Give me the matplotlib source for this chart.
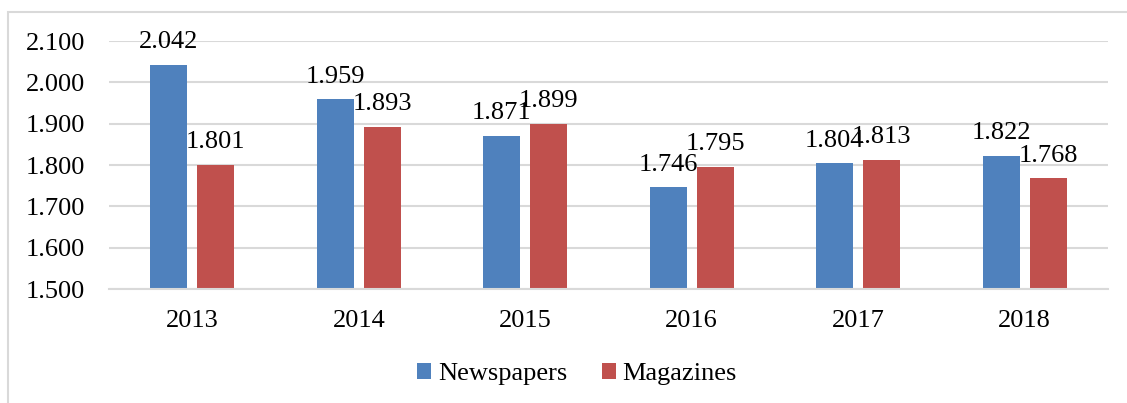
import matplotlib
matplotlib.use('Agg')
import matplotlib.pyplot as plt
import numpy as np
from matplotlib.patches import Rectangle

plt.rcParams['font.family'] = ['Liberation Serif', 'DejaVu Serif']

# data
years = ['2013', '2014', '2015', '2016', '2017', '2018']
newspapers = [2.042, 1.959, 1.871, 1.746, 1.804, 1.822]
magazines = [1.801, 1.893, 1.899, 1.795, 1.813, 1.768]
yticks = [1.5, 1.6, 1.7, 1.8, 1.9, 2.0, 2.1]

blue = '#4f81bd'
red = '#c0504d'
grid_col = '#d9d9d9'
fs = 19

fig = plt.figure(figsize=(11.27, 4.03), dpi=100)
ax = fig.add_axes([109 / 1127, 1 - 289 / 403, 999 / 1127, 248 / 403])

x = np.arange(len(years))
w = 0.222
off = 0.141
b1 = ax.bar(x - off, newspapers, w, bottom=0, color=blue, label='Newspapers')
b2 = ax.bar(x + off, magazines, w, bottom=0, color=red, label='Magazines')

# value labels above bars
for bars, vals in [(b1, newspapers), (b2, magazines)]:
    for rect, v in zip(bars, vals):
        ax.annotate(f'{v:.3f}', (rect.get_x() + rect.get_width() / 2, v),
                    xytext=(0, 12), textcoords='offset points',
                    ha='center', va='baseline', fontsize=fs)

ax.set_ylim(1.5, 2.1)
ax.set_xlim(-0.5, len(years) - 0.5)
ax.set_yticks(yticks)
ax.set_yticklabels([f'{t:.3f}' for t in yticks], fontsize=fs)
ax.set_xticks(x)
ax.set_xticklabels(years, fontsize=fs)
ax.tick_params(axis='y', length=0, pad=17)
ax.tick_params(axis='x', length=0, pad=15)
ax.yaxis.grid(True, color=grid_col, linewidth=1.5)
ax.set_axisbelow(True)
for s in ['top', 'right', 'left']:
    ax.spines[s].set_visible(False)
ax.spines['bottom'].set_color(grid_col)
ax.spines['bottom'].set_linewidth(1.5)

ax.legend(loc='center', bbox_to_anchor=(577 / 1127, 1 - 374 / 403),
          bbox_transform=fig.transFigure, ncol=2, frameon=False,
          fontsize=fs, handlelength=0.55, handleheight=0.55,
          handletextpad=0.25, columnspacing=1.3)

# outer chart frame
fig.patches.append(Rectangle((8 / 1127, -0.1), 1.2, 1 - 11.5 / 403 + 0.1,
                             transform=fig.transFigure, fill=False,
                             edgecolor=grid_col, linewidth=1.5))

fig.savefig('out.png', dpi=100)
